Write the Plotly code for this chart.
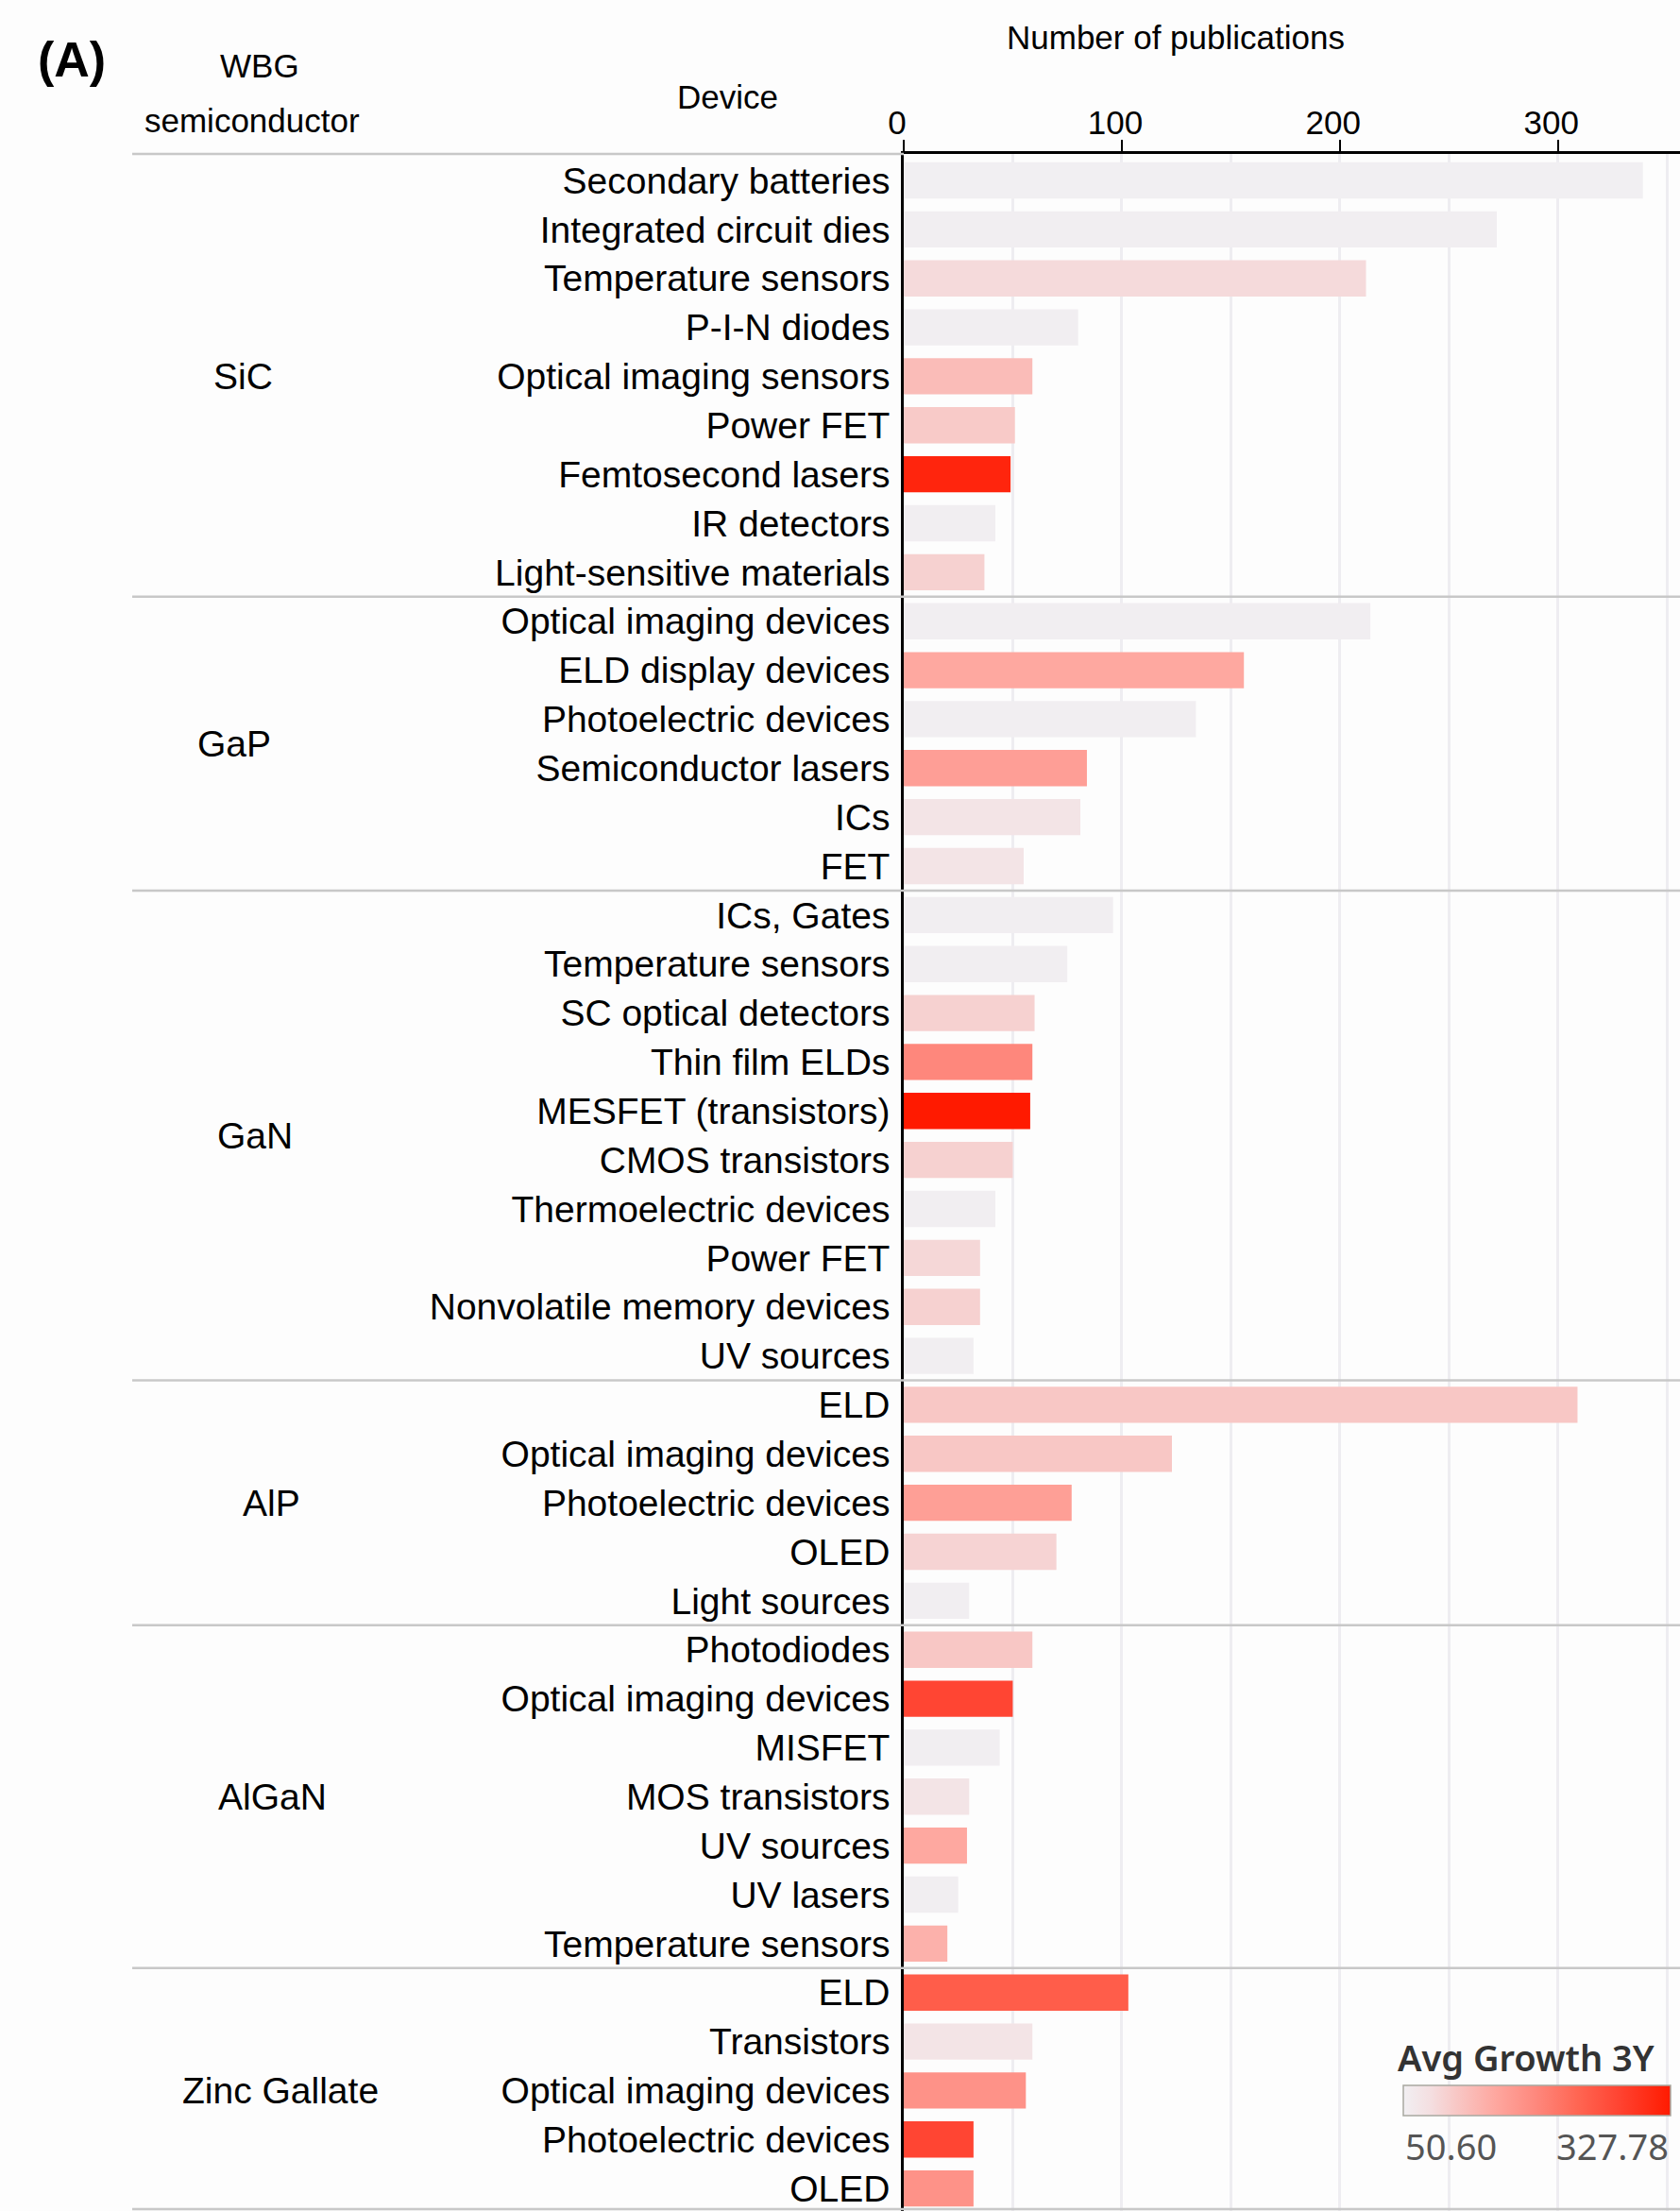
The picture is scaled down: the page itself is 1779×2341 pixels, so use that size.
import plotly.graph_objects as go

# WBG semiconductors and their devices (top to bottom)
groups = ["SiC", "GaP", "GaN", "AlP", "AlGaN", "Zinc Gallate"]

sic_devices = ["Secondary batteries", "Integrated circuit dies", "Temperature sensors",
               "P-I-N diodes", "Optical imaging sensors", "Power FET", "Femtosecond lasers",
               "IR detectors", "Light-sensitive materials"]
sic_pubs = [339, 272, 212, 80, 59, 51, 49, 42, 37]
sic_growth = [50.6, 52, 84, 53, 120, 103, 314, 53, 95]

gap_devices = ["Optical imaging devices", "ELD display devices", "Photoelectric devices",
               "Semiconductor lasers", "ICs", "FET"]
gap_pubs = [214, 156, 134, 84, 81, 55]
gap_growth = [52, 145, 52, 158, 70, 70]

gan_devices = ["ICs, Gates", "Temperature sensors", "SC optical detectors", "Thin film ELDs",
               "MESFET (transistors)", "CMOS transistors", "Thermoelectric devices",
               "Power FET", "Nonvolatile memory devices", "UV sources"]
gan_pubs = [96, 75, 60, 59, 58, 50, 42, 35, 35, 32]
gan_growth = [52, 53, 95, 189, 327.78, 95, 53, 88, 95, 53]

alp_devices = ["ELD", "Optical imaging devices", "Photoelectric devices", "OLED", "Light sources"]
alp_pubs = [309, 123, 77, 70, 30]
alp_growth = [106, 106, 157, 92, 52]

algan_devices = ["Photodiodes", "Optical imaging devices", "MISFET", "MOS transistors",
                 "UV sources", "UV lasers", "Temperature sensors"]
algan_pubs = [59, 50, 44, 30, 29, 25, 20]
algan_growth = [106, 272, 52, 70, 145, 53, 134]

zinc_devices = ["ELD", "Transistors", "Optical imaging devices", "Photoelectric devices", "OLED"]
zinc_pubs = [103, 59, 56, 32, 32]
zinc_growth = [242, 70, 175, 272, 175]

x_ticks = [0, 100, 200, 300]
growth_min, growth_max = 50.6, 327.78

all_devices = [sic_devices, gap_devices, gan_devices, alp_devices, algan_devices, zinc_devices]
all_pubs = [sic_pubs, gap_pubs, gan_pubs, alp_pubs, algan_pubs, zinc_pubs]
all_growth = [sic_growth, gap_growth, gan_growth, alp_growth, algan_growth, zinc_growth]

devices = [d for grp in all_devices for d in grp]
pubs = [v for grp in all_pubs for v in grp]
growth = [v for grp in all_growth for v in grp]
rows = list(range(len(devices)))

# page geometry (pixels)
W, H = 1779, 2341
L, T = 957, 163
PW, PH = W - L, H - T
Y_TOP, Y_BOT = -0.54, len(devices) - 0.54
# horizontal centres of the group names (pixels), as in the original layout
group_label_x = [257, 248, 270, 287, 288, 297]


def paper_x(px):
    return (px - L) / PW


def paper_y(py):
    return (H - py) / PH


def row_to_paper(r):
    return (Y_BOT - r) / (Y_BOT - Y_TOP)


reds = [[0.0, "#f1eff2"], [0.1, "#f4dfe1"], [0.2, "#f8c7c5"], [0.35, "#fea69e"],
        [0.5, "#fe877c"], [0.65, "#ff6653"], [0.8, "#ff4533"], [1.0, "#ff1a00"]]

bars = go.Bar(
    x=pubs, y=rows, orientation="h",
    marker=dict(color=growth, colorscale=reds, cmin=growth_min, cmax=growth_max,
                line=dict(width=0), showscale=True,
                colorbar=dict(orientation="h", x=paper_x(1486), y=paper_y(2208),
                              xanchor="left", yanchor="top", lenmode="pixels", len=283,
                              thickness=32, xpad=0, ypad=0, showticklabels=False,
                              ticks="", outlinewidth=1.5, outlinecolor="#a8a8a0")),
    hovertemplate="%{x}<extra></extra>",
)

fig = go.Figure(data=[bars])

FONT = "Liberation Sans, Arial, sans-serif"
LEG_FONT = "Noto Sans, sans-serif"

annotations = [
    dict(text="<b>(A)</b>", x=paper_x(76), y=paper_y(63), font=dict(size=52)),
    dict(text="WBG", x=paper_x(275), y=paper_y(70), font=dict(size=35)),
    dict(text="semiconductor", x=paper_x(267), y=paper_y(128), font=dict(size=35)),
    dict(text="Device", x=paper_x(770), y=paper_y(103), font=dict(size=35)),
    dict(text="Number of publications", x=paper_x(1245), y=paper_y(39), font=dict(size=35)),
    dict(text="Avg Growth 3Y", x=paper_x(1478), y=paper_y(2178), xanchor="left",
         font=dict(size=38, family=LEG_FONT, color="#333333", weight=600)),
    dict(text="50.60", x=paper_x(1486), y=paper_y(2272), xanchor="left",
         font=dict(size=38, family=LEG_FONT, color="#555555")),
    dict(text="327.78", x=paper_x(1769), y=paper_y(2272), xanchor="right",
         font=dict(size=38, family=LEG_FONT, color="#555555")),
]

shapes = []
start = 0
for name, grp, gx in zip(groups, all_devices, group_label_x):
    mid = start + (len(grp) - 1) / 2
    annotations.append(dict(text=name, x=paper_x(gx), y=row_to_paper(mid), font=dict(size=39)))
    start += len(grp)
    if start < len(devices):
        yb = row_to_paper(start - 0.5)
        shapes.append(dict(type="line", xref="paper", yref="paper", x0=paper_x(140), x1=1,
                           y0=yb, y1=yb, line=dict(color="#c8c8c8", width=2.5)))

for a in annotations:
    a.update(xref="paper", yref="paper", showarrow=False, yanchor="middle")
    a.setdefault("xanchor", "center")
    a["font"].setdefault("family", FONT)
    a["font"].setdefault("color", "#000000")

# header rule left of the axis and the bottom rule
shapes.append(dict(type="line", xref="paper", yref="paper", x0=paper_x(140), x1=0,
                   y0=1, y1=1, line=dict(color="#c8c8c8", width=2.5)))
shapes.append(dict(type="line", xref="paper", yref="paper", x0=paper_x(140), x1=1,
                   y0=paper_y(2339), y1=paper_y(2339), line=dict(color="#c8c8c8", width=2.5)))
# legend panel covering the grid
shapes.append(dict(type="rect", xref="paper", yref="paper", x0=paper_x(1440), x1=1,
                   y0=0, y1=paper_y(2117), fillcolor="#fdfdfd", line=dict(width=0),
                   layer="between"))

fig.update_layout(
    width=W, height=H,
    margin=dict(l=L, r=0, t=T, b=0),
    paper_bgcolor="#fdfdfd", plot_bgcolor="#fdfdfd",
    font=dict(family=FONT, color="#000000"),
    bargap=0.26,
    showlegend=False,
    annotations=annotations,
    shapes=shapes,
    xaxis=dict(side="top", range=[0, 356], tickvals=x_ticks, ticks="outside", ticklen=12,
               tickwidth=1.5, tickcolor="#000000", tickfont=dict(size=35),
               ticklabelstandoff=-8, ticklabelshift=-7,
               showline=True, linecolor="#000000", linewidth=3,
               showgrid=True, gridcolor="#eeedf1", gridwidth=3, zeroline=False,
               minor=dict(dtick=50, showgrid=True, gridcolor="#eeedf1", gridwidth=3)),
    yaxis=dict(range=[Y_BOT, Y_TOP], tickvals=rows, ticktext=devices,
               tickfont=dict(size=39), ticks="", ticklabelstandoff=4,
               showline=True, linecolor="#000000", linewidth=2.5,
               showgrid=False, zeroline=False),
)

fig.write_html("out.html", config={"displayModeBar": False},
               post_script="document.body.style.margin='0';")
